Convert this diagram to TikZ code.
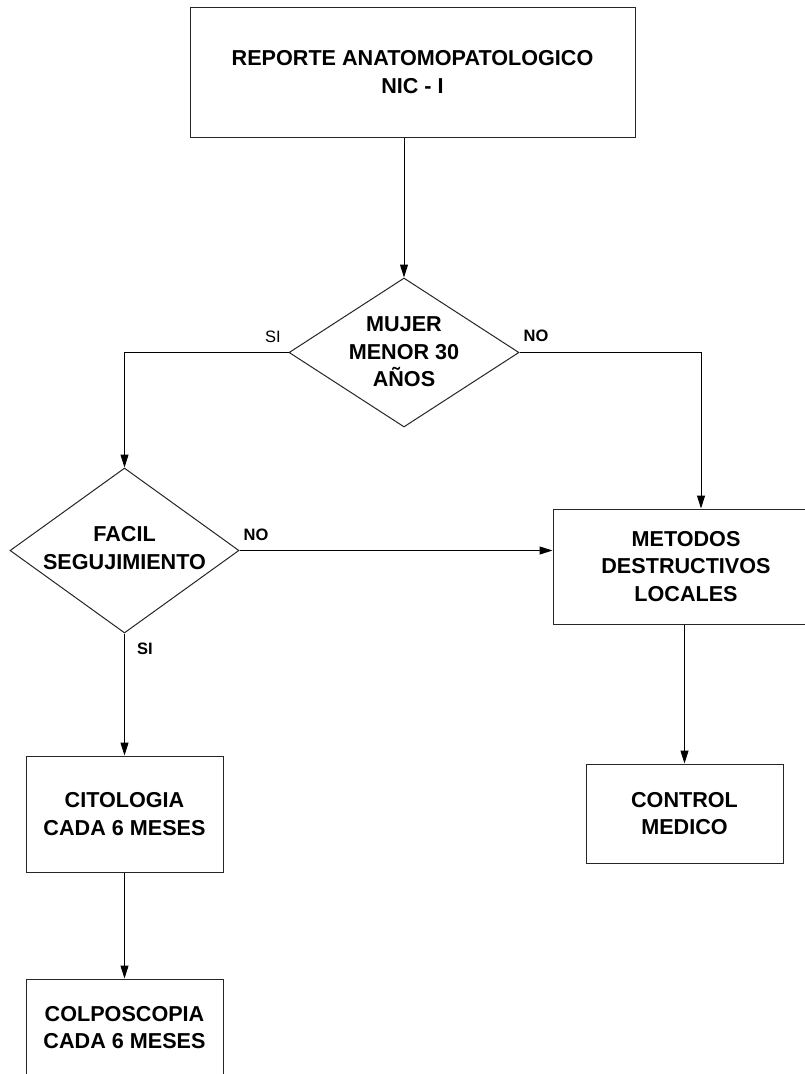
\documentclass[tikz,border=0pt]{standalone}
\usepackage{fontspec}
\setmainfont{Liberation Sans}
\usetikzlibrary{shapes.geometric,arrows.meta,calc}
\tikzset{
  box/.style={draw=black!85, line width=1pt, rectangle, inner sep=0pt, align=center,
    font=\fontsize{21.6}{27.5}\selectfont\bfseries},
  dia/.style={draw=black!85, line width=1pt, diamond, inner sep=0pt},
  diatext/.style={inner sep=0pt, align=center, font=\fontsize{21.6}{27.5}\selectfont\bfseries},
  conn/.style={line width=1pt, -{Triangle[length=13pt,width=8pt]}},
  lbl/.style={inner sep=0pt, font=\fontsize{16.5}{18}\selectfont\bfseries},
  lblr/.style={inner sep=0pt, font=\fontsize{16.5}{18}\selectfont}
}
\begin{document}
\begin{tikzpicture}[x=1pt,y=-1pt]
\useasboundingbox (0,0) rectangle (805,1074);
\fill[white] (0,0) rectangle (805,1074);
\clip (0,0) rectangle (805,1074);

\node[box, minimum width=445pt, minimum height=130pt] (top) at (412.5,72) {REPORTE ANATOMOPATOLOGICO\\NIC - I};

\node[dia, minimum width=230pt, minimum height=149pt] (d1) at (404,352.5) {};
\node[diatext] (d1t) at (404,352) {MUJER\\MENOR 30\\AÑOS};

\node[dia, minimum width=229pt, minimum height=165pt] (d2) at (124.5,550.5) {};
\node[diatext] (d2t) at (124.5,548) {FACIL\\SEGUJIMIENTO};

\node[box, minimum width=266pt, minimum height=115pt] (md) at (686,566.5) {METODOS\\DESTRUCTIVOS\\LOCALES};
\node[box, minimum width=197pt, minimum height=99pt] (ctrl) at (684.5,813.5) {CONTROL\\MEDICO};
\node[box, minimum width=197pt, minimum height=116pt] (cito) at (124.5,814) {CITOLOGIA\\CADA 6 MESES};
\node[box, minimum width=197pt, minimum height=97pt] (colpo) at (124.5,1027.5) {COLPOSCOPIA\\CADA 6 MESES};

\draw[conn] (d1.north |- top.south) -- (d1.north);
\draw[conn] (d1.west) -| (d2.north);
\draw[conn] (d1.east) -| ([xshift=15pt]md.north);
\draw[conn] (d2.east) -- (d2.east -| md.west);
\draw[conn] (d2.south) -- (cito.north);
\draw[conn] (cito.south) -- (colpo.north);
\draw[conn] (ctrl.north |- md.south) -- (ctrl.north);

\node[lblr] (si1) at (273,337) {SI};
\node[lbl] (no1) at (536,336) {NO};
\node[lbl] (no2) at (256,535) {NO};
\node[lbl] (si2) at (145,649) {SI};
\end{tikzpicture}
\end{document}
